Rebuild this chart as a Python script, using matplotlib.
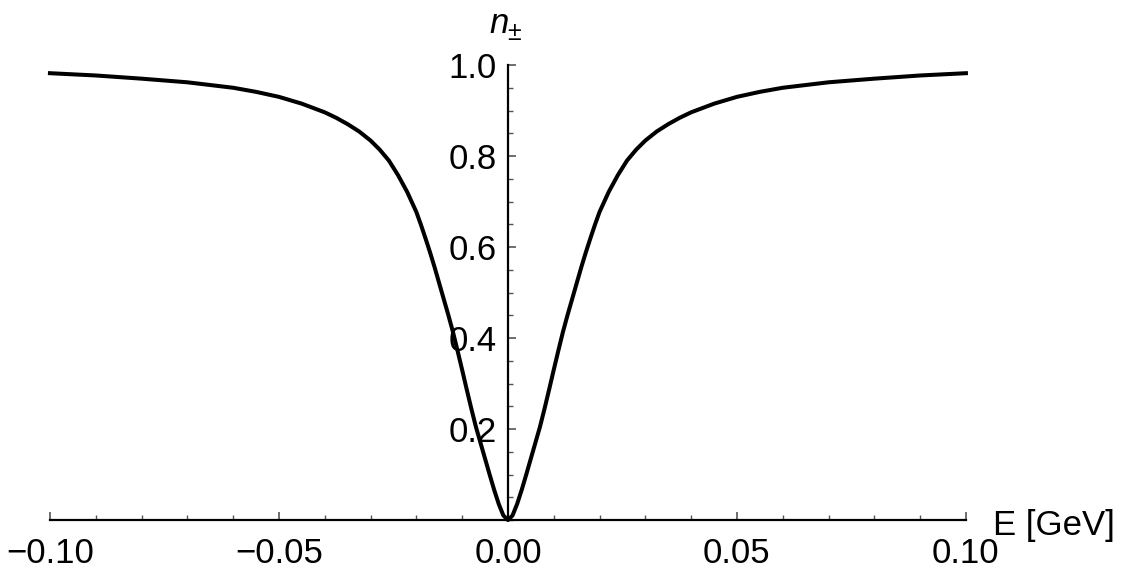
import matplotlib.pyplot as plt
from matplotlib.ticker import MultipleLocator

# values for E >= 0 (GeV); the curve is symmetric
e_pos = [0.000, 0.001, 0.002, 0.003, 0.004, 0.005, 0.006, 0.007, 0.008,
         0.009, 0.010, 0.011, 0.012, 0.013, 0.014, 0.015, 0.016, 0.017,
         0.018, 0.019, 0.020, 0.022, 0.024, 0.026, 0.028, 0.030, 0.0325,
         0.035, 0.0375, 0.040, 0.045, 0.050, 0.055, 0.060, 0.070, 0.080,
         0.090, 0.100]
n_pos = [0.000, 0.010, 0.035, 0.066, 0.100, 0.135, 0.170, 0.205, 0.245,
         0.287, 0.330, 0.372, 0.413, 0.450, 0.485, 0.520, 0.555, 0.588,
         0.619, 0.649, 0.677, 0.721, 0.758, 0.790, 0.814, 0.834, 0.854,
         0.870, 0.884, 0.896, 0.915, 0.930, 0.941, 0.950, 0.962, 0.970,
         0.977, 0.982]

energy = [-e for e in e_pos[:0:-1]] + e_pos
n_pm = n_pos[:0:-1] + n_pos

x_ticks = [-0.10, -0.05, 0.00, 0.05, 0.10]
x_labels = ["\u22120.10", "\u22120.05", "0.00", "0.05", "0.10"]
y_ticks = [0.2, 0.4, 0.6, 0.8, 1.0]
y_labels = ["0.2", "0.4", "0.6", "0.8", "1.0"]

plt.rcParams["font.family"] = ["Liberation Sans", "DejaVu Sans"]

fig = plt.figure(figsize=(11.25, 5.82), dpi=100)
ax = fig.add_axes([0.0444, 0.1065, 0.8142, 0.7818])

ax.plot(energy, n_pm, color="black", lw=2.9, clip_on=False)

ax.set_xlim(-0.10, 0.10)
ax.set_ylim(0, 1.0)

# axes crossing at the origin
ax.spines["left"].set_position(("data", 0))
ax.spines["bottom"].set_position(("data", 0))
ax.spines["right"].set_visible(False)
ax.spines["top"].set_visible(False)
for s in ("left", "bottom"):
    ax.spines[s].set_linewidth(1.6)
    ax.spines[s].set_color("black")

ax.set_xticks(x_ticks)
ax.set_xticklabels(x_labels)
ax.set_yticks(y_ticks)
ax.set_yticklabels(y_labels)
ax.xaxis.set_minor_locator(MultipleLocator(0.01))
ax.yaxis.set_minor_locator(MultipleLocator(0.05))

ax.tick_params(which="both", direction="in", color="#555555", labelsize=25)
ax.tick_params(which="major", length=6, width=1.2)
ax.tick_params(which="minor", length=3.5, width=1.0)
ax.tick_params(axis="x", which="major", pad=12)
ax.tick_params(axis="y", which="major", pad=8)

# axis labels: italic n with a plus-minus subscript, and the energy unit
fig.text(489 / 1125, (582 - 33) / 582, "n", fontsize=25, style="italic",
         ha="left", va="baseline")
fig.text(507 / 1125, (582 - 40) / 582, "\u00b1", fontsize=18,
         ha="left", va="baseline")
fig.text(993 / 1125, (582 - 535) / 582, "E [GeV]", fontsize=25,
         ha="left", va="baseline")

fig.savefig("out.png", dpi=100)
